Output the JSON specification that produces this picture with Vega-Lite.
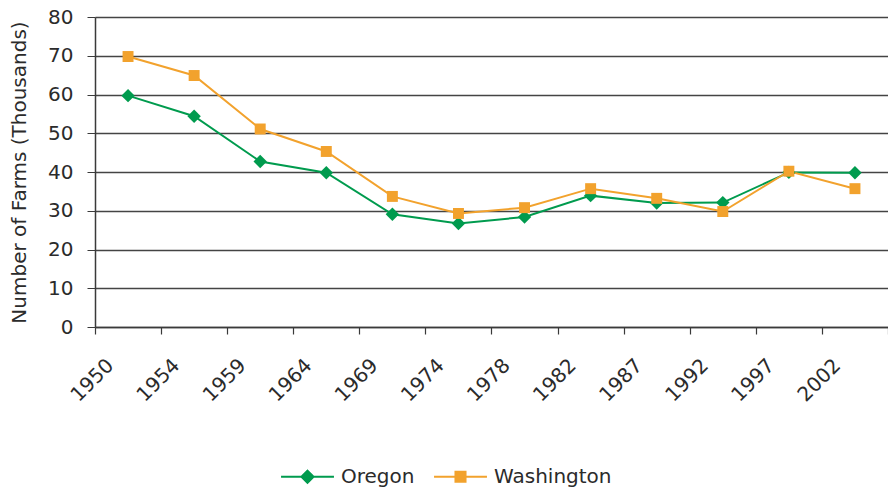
{
  "$schema": "https://vega.github.io/schema/vega-lite/v6.json",
  "width": 793,
  "height": 310,
  "autosize": "none",
  "padding": {"left": 95, "top": 17, "right": 0, "bottom": 164},
  "background": "white",
  "config": {
    "font": "DejaVu Sans",
    "view": {"stroke": null}
  },
  "data": {
    "values": [
      {"year": "1950", "state": "Oregon", "farms": 59.7},
      {"year": "1954", "state": "Oregon", "farms": 54.4},
      {"year": "1959", "state": "Oregon", "farms": 42.7},
      {"year": "1964", "state": "Oregon", "farms": 39.8},
      {"year": "1969", "state": "Oregon", "farms": 29.1},
      {"year": "1974", "state": "Oregon", "farms": 26.7},
      {"year": "1978", "state": "Oregon", "farms": 28.4},
      {"year": "1982", "state": "Oregon", "farms": 33.9},
      {"year": "1987", "state": "Oregon", "farms": 32.0},
      {"year": "1992", "state": "Oregon", "farms": 32.1},
      {"year": "1997", "state": "Oregon", "farms": 39.9},
      {"year": "2002", "state": "Oregon", "farms": 39.8},
      {"year": "1950", "state": "Washington", "farms": 69.8},
      {"year": "1954", "state": "Washington", "farms": 64.9},
      {"year": "1959", "state": "Washington", "farms": 51.1},
      {"year": "1964", "state": "Washington", "farms": 45.3},
      {"year": "1969", "state": "Washington", "farms": 33.7},
      {"year": "1974", "state": "Washington", "farms": 29.3},
      {"year": "1978", "state": "Washington", "farms": 30.8},
      {"year": "1982", "state": "Washington", "farms": 35.7},
      {"year": "1987", "state": "Washington", "farms": 33.2},
      {"year": "1992", "state": "Washington", "farms": 29.8},
      {"year": "1997", "state": "Washington", "farms": 40.2},
      {"year": "2002", "state": "Washington", "farms": 35.7}
    ]
  },
  "encoding": {
    "x": {
      "field": "year",
      "type": "ordinal",
      "sort": null,
      "scale": {"type": "band", "paddingInner": 0, "paddingOuter": 0},
      "axis": {
        "title": null,
        "tickBand": "extent",
        "grid": false,
        "domainColor": "#3a3a3a",
        "domainWidth": 1.5,
        "tickColor": "#3a3a3a",
        "tickWidth": 1.2,
        "tickSize": 7,
        "labelAngle": -45,
        "labelAlign": "right",
        "labelBaseline": "middle",
        "labelOffset": -18,
        "labelPadding": 28,
        "labelFontSize": 20,
        "labelColor": "#2b2b2b"
      }
    },
    "y": {
      "field": "farms",
      "type": "quantitative",
      "scale": {"domain": [0, 80], "nice": false},
      "axis": {
        "title": "Number of Farms (Thousands)",
        "titleFontSize": 20,
        "titleFontWeight": "normal",
        "titleColor": "#2b2b2b",
        "titlePadding": 18,
        "values": [0, 10, 20, 30, 40, 50, 60, 70, 80],
        "grid": true,
        "gridColor": "#444",
        "gridWidth": 1.3,
        "domainColor": "#3a3a3a",
        "domainWidth": 1.5,
        "tickColor": "#3a3a3a",
        "tickSize": 8,
        "labelPadding": 14,
        "labelFontSize": 20,
        "labelColor": "#2b2b2b"
      }
    },
    "color": {
      "field": "state",
      "type": "nominal",
      "scale": {"domain": ["Oregon", "Washington"], "range": ["#009B4E", "#F2A22D"]},
      "legend": {
        "title": null,
        "orient": "none",
        "legendX": 185,
        "legendY": 432,
        "direction": "horizontal",
        "symbolType": "M-1,0L1,0",
        "symbolSize": 2800,
        "symbolStrokeWidth": 2,
        "labelFontSize": 20,
        "labelColor": "#2b2b2b",
        "labelOffset": 6,
        "columnPadding": 15,
        "encode": {
          "symbols": {
            "update": {
              "shape": {"signal": "datum.value === 'Oregon' ? 'M-1,0L1,0M0,-0.23L0.23,0L0,0.23L-0.23,0Z' : 'M-1,0L1,0M-0.19,-0.19L0.19,-0.19L0.19,0.19L-0.19,0.19Z'"},
              "fill": {"signal": "datum.value === 'Oregon' ? '#009B4E' : '#F2A22D'"},
              "fillOpacity": {"value": 1}
            }
          }
        }
      }
    }
  },
  "layer": [
    {
      "mark": {"type": "line", "strokeWidth": 2}
    },
    {
      "transform": [{"filter": "datum.state === 'Oregon'"}],
      "mark": {"type": "point", "shape": "diamond", "filled": true, "size": 180, "opacity": 1}
    },
    {
      "transform": [{"filter": "datum.state === 'Washington'"}],
      "mark": {"type": "point", "shape": "square", "filled": true, "size": 120, "opacity": 1}
    }
  ]
}
